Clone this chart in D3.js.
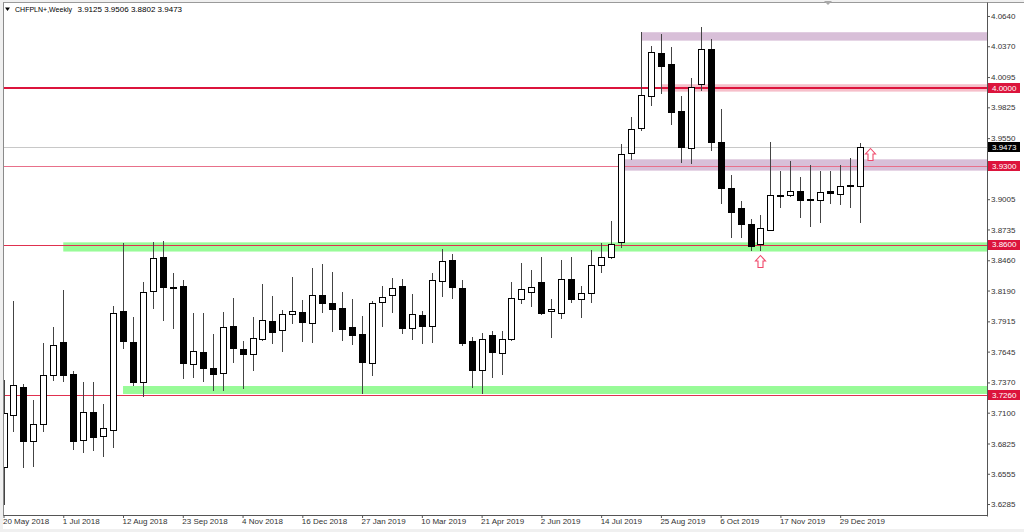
<!DOCTYPE html>
<html><head><meta charset="utf-8">
<script src="https://cdn.jsdelivr.net/npm/d3@7"></script>
<style>
html,body{margin:0;padding:0;background:#fff;}
svg{display:block;font-family:"Liberation Sans",Arial,sans-serif;}
</style></head><body>
<svg id="c" width="1024" height="532"></svg>
<script>
// ---------- DATA ----------
const symbol = "CHFPLN+,Weekly";
const lastOHLC = "3.9125 3.9506 3.8802 3.9473";
const dateLabels = ["20 May 2018","1 Jul 2018","12 Aug 2018","23 Sep 2018","4 Nov 2018","16 Dec 2018","27 Jan 2019","10 Mar 2019","21 Apr 2019","2 Jun 2019","14 Jul 2019","25 Aug 2019","6 Oct 2019","17 Nov 2019","29 Dec 2019"];
const open = [3.6615,3.7079,3.7329,3.6847,3.6999,3.7436,3.7731,3.7445,3.6856,3.7106,
3.6892,3.6946,3.8008,3.7731,3.7374,3.8186,3.8489,3.8226,3.8231,3.7535,
3.7642,3.7499,3.7454,3.7874,3.7668,3.7624,3.7758,3.7918,3.7838,3.7981,
3.7999,3.7900,3.8150,3.8079,3.8034,3.7865,3.7802,3.7544,3.8088,3.8150,
3.8231,3.7856,3.7972,3.7874,3.8275,3.8463,3.8213,3.7740,3.7481,3.7793,
3.7633,3.7758,3.8115,3.8177,3.8266,3.8008,3.7990,3.8293,3.8115,3.8168,
3.8418,3.8489,3.8623,3.9418,3.9641,3.9926,4.0310,4.0212,3.9792,3.9462,
4.0033,4.0346,3.9516,3.9105,3.8927,3.8784,3.8605,3.8730,3.9034,3.9043,
3.9078,3.9003,3.8998,3.9078,3.9052,3.9130,3.9125];
const high = [3.7392,3.8097,3.7356,3.7213,3.7722,3.7865,3.8195,3.7472,3.7374,3.7374,
3.7178,3.8052,3.8614,3.7954,3.8266,3.8623,3.8632,3.8347,3.8284,3.7990,
3.7990,3.7802,3.7999,3.8124,3.7740,3.7954,3.8248,3.8141,3.8016,3.8311,
3.8106,3.8391,3.8427,3.8356,3.8177,3.8115,3.7963,3.8097,3.8231,3.8302,
3.8293,3.8159,3.8008,3.8347,3.8561,3.8516,3.8284,3.7776,3.7811,3.7829,
3.7829,3.8266,3.8436,3.8373,3.8489,3.8115,3.8463,3.8489,3.8231,3.8552,
3.8614,3.8811,3.9498,3.9739,4.0497,4.0372,4.0479,4.0363,3.9926,4.0087,
4.0542,4.0435,3.9810,3.9221,3.8989,3.8829,3.8864,3.9516,3.9257,3.9346,
3.9203,3.9310,3.9257,3.9257,3.9310,3.9373,3.9506];
const low = [3.6285,3.6937,3.6615,3.6624,3.6937,3.7392,3.7383,3.6776,3.6749,3.6767,
3.6714,3.6794,3.7677,3.7347,3.7249,3.8034,3.7927,3.7856,3.7410,3.7419,
3.7383,3.7303,3.7303,3.7552,3.7320,3.7481,3.7749,3.7722,3.7651,3.7900,
3.7740,3.7731,3.7999,3.7829,3.7749,3.7713,3.7276,3.7436,3.7874,3.7999,
3.7811,3.7758,3.7722,3.7731,3.8141,3.8124,3.7704,3.7329,3.7276,3.7419,
3.7445,3.7749,3.8079,3.8052,3.7981,3.7776,3.7945,3.8088,3.7954,3.8088,
3.8356,3.8481,3.8579,3.9364,3.9623,3.9846,3.9953,3.9676,3.9337,3.9328,
3.9980,3.9444,3.8971,3.8668,3.8668,3.8552,3.8552,3.8730,3.8936,3.9034,
3.8846,3.8766,3.8802,3.8971,3.8962,3.8936,3.8802];
const close = [3.7097,3.7347,3.6847,3.6999,3.7436,3.7704,3.7436,3.6847,3.7106,3.6883,
3.6963,3.7990,3.7740,3.7374,3.8177,3.8481,3.8222,3.8217,3.7544,3.7651,
3.7499,3.7445,3.7865,3.7677,3.7624,3.7767,3.7927,3.7820,3.7981,3.8008,
3.7909,3.8150,3.8079,3.8025,3.7847,3.7793,3.7552,3.8079,3.8132,3.8213,
3.7856,3.7981,3.7874,3.8284,3.8454,3.8222,3.7722,3.7481,3.7758,3.7642,
3.7758,3.8124,3.8204,3.8222,3.7990,3.8025,3.8293,3.8115,3.8168,3.8418,
3.8489,3.8605,3.9409,3.9632,3.9935,4.0319,4.0194,3.9783,3.9471,4.0006,
4.0346,3.9516,3.9105,3.8891,3.8784,3.8588,3.8748,3.9043,3.9040,3.9078,
3.8998,3.8994,3.9069,3.9060,3.9123,3.9122,3.9473];
const yTicks = [4.0640,4.0370,4.0095,3.9825,3.9550,3.9005,3.8735,3.8460,3.8190,3.7915,3.7645,3.7370,3.7100,3.6825,3.6555,3.6285];
const levelPrices = [4.0000, 3.9300, 3.8600, 3.7260];
const currentPrice = 3.9473;
// zones: start bar index, top price, bottom price, kind
const zoneStart  = [64, 62.3, 66, 6, 12];
const zoneTop    = [4.0495, 3.9361, 4.0031, 3.8620, 3.7338];
const zoneBottom = [4.0420, 3.9260, 3.9965, 3.8538, 3.7267];
const zoneKind   = ["purple","purple","pink","green","green"];
// arrow markers: bar index, price of arrow tip
const arrowIndex = [76, 87];
const arrowPrice = [3.8507, 3.9465];

// ---------- STYLES ----------
const W = 1024, H = 532;
const plotL = 3.5, plotR = 987.5, plotT = 2.5, plotB = 515.5;
const zoneColor = {purple:"#d8bfd8", pink:"#f6bfca", green:"#98fb98"};
const levelColor = ["#dc143c","#e8708a","#e0304f","#e0304f"];
const levelWidth = [2,1,1,1];

const svg = d3.select("#c");
svg.append("rect").attr("width",W).attr("height",H).attr("fill","#fff");

const x = d3.scaleLinear().domain([0, 86]).range([3.5, 860.1]);
const y = d3.scaleLinear().domain([3.6187, 4.0738]).range([515, 5]);
const cx = i => Math.round(x(i)) + 0.5;
const py = p => Math.round(y(p)) + 0.5;

svg.append("clipPath").attr("id","plot").append("rect")
  .attr("x",plotL).attr("y",plotT).attr("width",plotR-plotL).attr("height",plotB-plotT);
const g = svg.append("g").attr("clip-path","url(#plot)");

// zones
zoneStart.forEach((s,k)=>{
  g.append("rect")
    .attr("x", x(s)).attr("y", y(zoneTop[k]))
    .attr("width", plotR - x(s)).attr("height", y(zoneBottom[k]) - y(zoneTop[k]))
    .attr("fill", zoneColor[zoneKind[k]]);
});
// current price line
g.append("line").attr("x1",plotL).attr("x2",plotR)
  .attr("y1",py(currentPrice)).attr("y2",py(currentPrice))
  .attr("stroke","#c8c8c8").attr("stroke-width",1);
// level lines
levelPrices.forEach((p,k)=>{
  const yy = levelWidth[k]===2 ? Math.round(y(p)) : py(p);
  g.append("line").attr("x1",plotL).attr("x2",plotR)
    .attr("y1",yy).attr("y2",yy)
    .attr("stroke",levelColor[k]).attr("stroke-width",levelWidth[k]);
});

// candles
const idx = d3.range(open.length);
g.selectAll("line.wick").data(idx).join("line").attr("class","wick")
  .attr("x1",cx).attr("x2",cx)
  .attr("y1",i=>Math.round(y(high[i]))).attr("y2",i=>Math.round(y(low[i]))+1)
  .attr("stroke","#444").attr("stroke-width",1);
g.selectAll("rect.body").data(idx).join("rect").attr("class","body")
  .attr("x",i=>cx(i)-3).attr("width",6)
  .attr("y",i=>py(Math.max(open[i],close[i])))
  .attr("height",i=>Math.max(0, Math.round(y(Math.min(open[i],close[i]))) - Math.round(y(Math.max(open[i],close[i])))))
  .attr("fill",i=> close[i] >= open[i] ? "#fff" : "#000")
  .attr("stroke","#000").attr("stroke-width",1);

// arrows
arrowIndex.forEach((ai,k)=>{
  const c = cx(ai), t = Math.round(y(arrowPrice[k])) + 0.5;
  const pts = [[c,t],[c+5,t+5.5],[c+2.5,t+5.5],[c+2.5,t+12],[c-2.5,t+12],[c-2.5,t+5.5],[c-5,t+5.5]];
  g.append("path").attr("d","M"+pts.map(p=>p.join(",")).join("L")+"Z")
    .attr("fill","#fff").attr("stroke","#f0486a").attr("stroke-width",1.1);
});

// frame
svg.append("line").attr("x1",0).attr("x2",W).attr("y1",plotT).attr("y2",plotT).attr("stroke","#9a9a9a");
svg.append("line").attr("x1",plotL).attr("x2",plotL).attr("y1",plotT).attr("y2",plotB).attr("stroke","#8a8a8a");
svg.append("line").attr("x1",plotR).attr("x2",plotR).attr("y1",plotT).attr("y2",plotB+1).attr("stroke","#555");
svg.append("line").attr("x1",plotL).attr("x2",plotR).attr("y1",plotB).attr("y2",plotB).attr("stroke","#555");
svg.append("rect").attr("x",0).attr("y",0).attr("width",W).attr("height",2).attr("fill","#f0f0f0");
svg.append("rect").attr("x",0).attr("y",0).attr("width",3).attr("height",H).attr("fill","#f0f0f0");
svg.append("rect").attr("x",0).attr("y",529).attr("width",W).attr("height",3).attr("fill","#f0f0f0");
// shift marker
svg.append("path").attr("d","M824,1L832,1L828,5Z").attr("fill","#a8a8a8");

// y axis
const yAxis = d3.axisRight(y).tickValues(yTicks).tickSize(3).tickPadding(1).tickFormat(d3.format(".4f"));
const ya = svg.append("g").attr("transform",`translate(${plotR-0.5},0)`).call(yAxis);
ya.select(".domain").remove();
ya.selectAll("line").attr("stroke","#555");
ya.selectAll("text").attr("font-size","8px").attr("fill","#333").attr("font-family","Liberation Sans, Arial, sans-serif");

// highlighted price labels
const labs = levelPrices.map((p,k)=>({p, bg:"#dc143c"})).concat([{p:currentPrice,bg:"#000"}]);
labs.forEach(l=>{
  const yy = y(l.p);
  svg.append("rect").attr("x",988).attr("y",Math.round(yy)-5).attr("width",32).attr("height",10).attr("fill",l.bg);
  svg.append("text").attr("x",992).attr("y",yy).attr("dy","0.35em")
    .attr("font-size","8px").attr("fill","#fff").text(d3.format(".4f")(l.p));
});

// x axis
const xAxis = d3.axisBottom(x).tickValues(d3.range(0, 87, 6)).tickSize(3)
  .tickFormat((d,k)=>dateLabels[k]);
const xa = svg.append("g").attr("transform",`translate(0,${plotB-0.5})`).call(xAxis);
xa.select(".domain").remove();
xa.selectAll("line").attr("stroke","#555");
xa.selectAll("text").attr("font-size","8px").attr("fill","#333")
  .attr("font-family","Liberation Sans, Arial, sans-serif")
  .attr("text-anchor","start").attr("x",-1).attr("y",9).attr("dy",0);

// title
svg.append("path").attr("d","M5,7.5L10,7.5L7.5,11Z").attr("fill","#000");
svg.append("text").attr("x",15).attr("y",11.5).attr("font-size","8px").attr("fill","#000")
  .attr("textLength",57).attr("lengthAdjust","spacingAndGlyphs").text(symbol);
svg.append("text").attr("x",77.5).attr("y",11.5).attr("font-size","8px").attr("fill","#000").text(lastOHLC);
</script>
</body></html>
